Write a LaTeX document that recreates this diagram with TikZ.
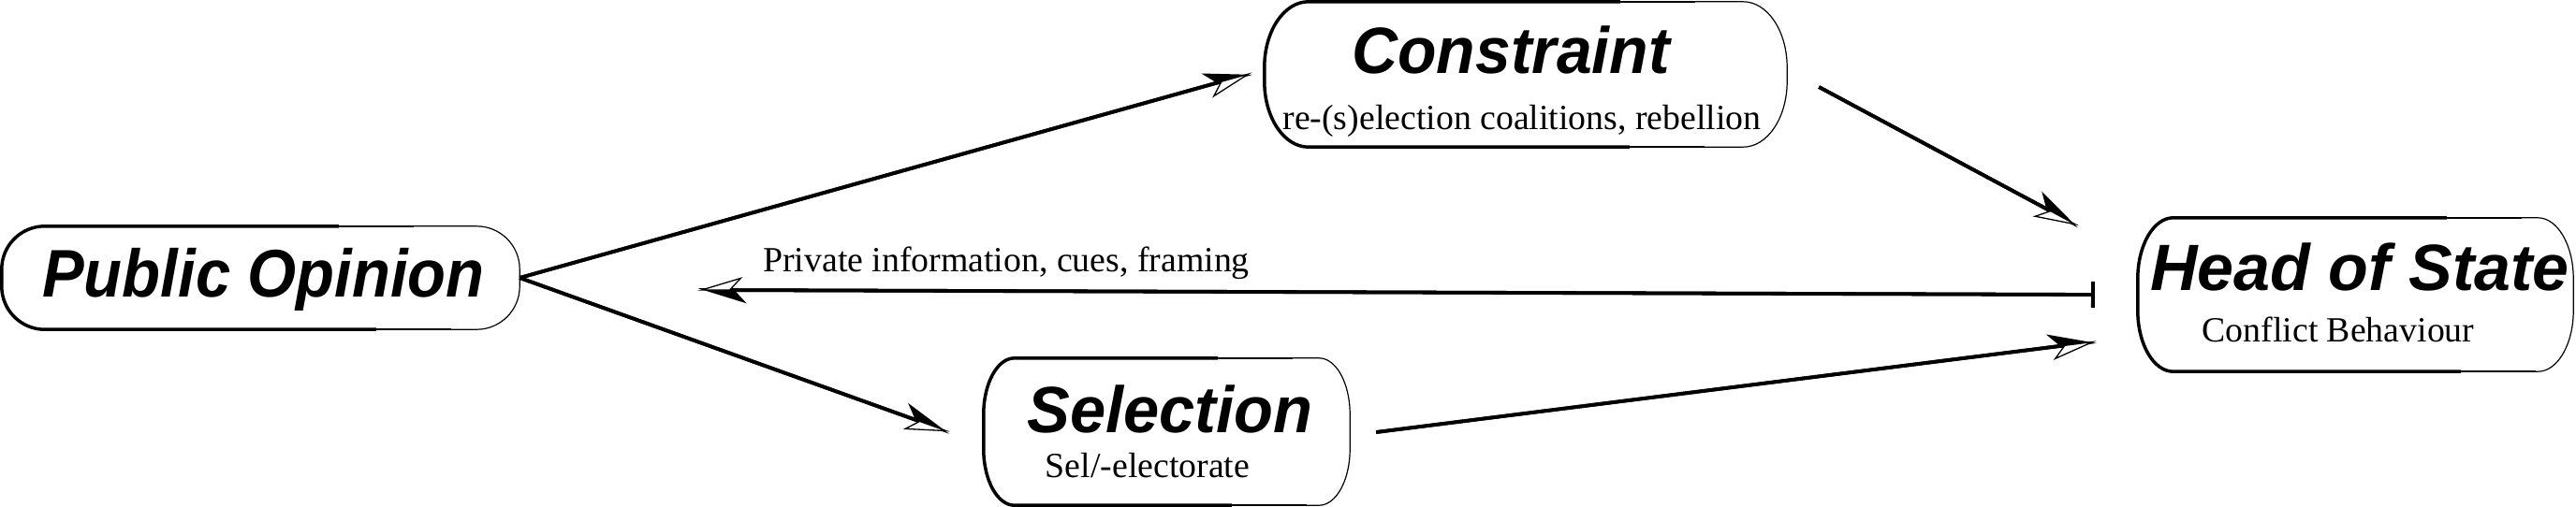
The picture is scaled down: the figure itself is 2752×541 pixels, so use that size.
\documentclass[tikz,border=0pt]{standalone}
\usepackage{graphicx}
\usepackage{fontspec}
\setmainfont{Liberation Serif}
\newfontfamily\hsans{Liberation Sans}
\usetikzlibrary{arrows.meta,calc}
\tikzset{
  box/.style={inner sep=0pt},
  boxthin/.style={line width=1.2pt},
  boxthick/.style={line width=3.5pt},
  boxmid/.style={line width=2.5pt},
  boxlow/.style={line width=1.8pt},
  ttl/.style={anchor=base, inner sep=0pt, font=\hsans\bfseries\itshape},
  sub/.style={anchor=base, inner sep=0pt},
  conn/.style={line width=3.8pt,
    -{Stealth[harpoon,length=46pt,width=28pt,inset=13pt]},
    postaction={draw, line width=3.8pt,
      -{Stealth[harpoon,swap,length=46pt,width=28pt,inset=13pt,fill=white,line width=1.3pt]}}},
  barconn/.style={line width=3.8pt,
    {Bar[width=28pt]}-{Stealth[harpoon,length=46pt,width=28pt,inset=13pt]},
    postaction={draw, line width=3.8pt,
      -{Stealth[harpoon,swap,length=46pt,width=28pt,inset=13pt,fill=white,line width=1.3pt]}}}
}
% #1 node, #2 rx, #3 ry, #4 thick top extent, #5 thick bottom extent
\newcommand\bxoutline[5]{%
  \draw[boxthin] ($(#1.north west)+(#2,0)$)
    arc[start angle=90,end angle=180,x radius=#2pt,y radius=#3pt]
    -- ($(#1.south west)+(0,-#3)$)
    arc[start angle=180,end angle=270,x radius=#2pt,y radius=#3pt]
    -- ($(#1.south east)+(-#2,0)$)
    arc[start angle=270,end angle=360,x radius=#2pt,y radius=#3pt]
    -- ($(#1.north east)+(0,#3)$)
    arc[start angle=0,end angle=90,x radius=#2pt,y radius=#3pt]
    -- cycle;
  \draw[boxthick] ($(#1.north west)+(#4,0)$) -- ($(#1.north west)+(#2,0)$)
    arc[start angle=90,end angle=180,x radius=#2pt,y radius=#3pt]
    -- ($(#1.south west)+(0,-#3)$)
    arc[start angle=180,end angle=270,x radius=#2pt,y radius=#3pt]
    -- ($(#1.south west)+(#5,0)$);
  \draw[boxmid] ($(#1.north west)+(#4,0)$) -- ++(40,0);
  \draw[boxlow] ($(#1.north west)+(#4+40,0)$) -- ++(40,0);
  \draw[boxmid] ($(#1.south west)+(#5,0)$) -- ++(40,0);
  \draw[boxlow] ($(#1.south west)+(#5+40,0)$) -- ++(40,0);
}
\begin{document}
\begin{tikzpicture}[x=1pt,y=-1pt]
\useasboundingbox (0,0) rectangle (2752,541);
% boxes (anchors)
\node[box, minimum width=553pt, minimum height=110pt] (po) at (278.5,297) {};
\node[box, minimum width=558pt, minimum height=155pt] (con) at (1630,79.5) {};
\node[box, minimum width=465pt, minimum height=164pt] (hos) at (2516.5,315) {};
\node[box, minimum width=391pt, minimum height=157pt] (sel) at (1246.5,461.5) {};
\bxoutline{po}{46}{46}{360}{400}
\bxoutline{con}{47}{70}{380}{390}
\bxoutline{hos}{38}{65}{330}{345}
\bxoutline{sel}{33}{60}{250}{265}
% titles
\node[ttl] (poT) at (281.5,317) {\fontsize{72}{80}\selectfont\scalebox{0.93}[1]{Public Opinion}};
\node[ttl] (conT) at (1614,78) {\fontsize{70}{78}\selectfont\scalebox{0.97}[1]{Constraint}};
\node[ttl] (hosT) at (2521,310) {\fontsize{70}{78}\selectfont Head of State};
\node[ttl] (selT) at (1250,462) {\fontsize{70}{78}\selectfont\scalebox{0.98}[1]{Selection}};
% subtitles
\node[sub] (conS) at (1626,138) {\fontsize{37.8}{44}\selectfont re-(s)election coalitions, rebellion};
\node[sub] (hosS) at (2498,365) {\fontsize{37.8}{44}\selectfont Conflict Behaviour};
\node[sub] (selS) at (1226,510) {\fontsize{37.8}{44}\selectfont Sel/-electorate};
% connectors
\draw[conn] (po.east) -- ($(con.west)+(-13,-1.5)$);
\draw[conn] (po.east) -- ($(sel.west)+(-36,0.5)$);
\draw[conn] ($(sel.east)+(28,0.5)$) -- ($(hos.west)+(-44,50)$);
\draw[conn] ($(con.east)+(34,13.5)$) -- ($(hos.north west)+(-63,9)$);
\draw[barconn] ($(hos.west)+(-46,0)$) -- ($(po.east)+(190,13)$);
\node[sub] (piL) at (1075,290) {\fontsize{37.8}{44}\selectfont Private information, cues, framing};
\end{tikzpicture}
\end{document}
